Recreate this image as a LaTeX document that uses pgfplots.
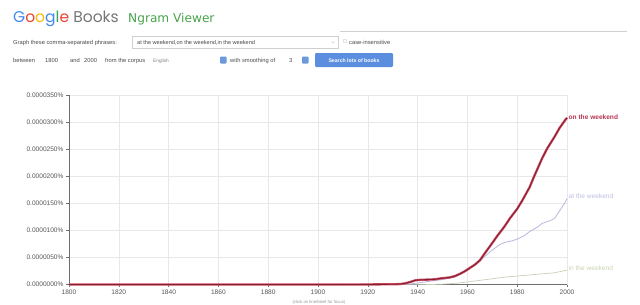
\documentclass[border=0pt]{standalone}
\usepackage{pgfplots}
\pgfplotsset{compat=1.18}
\usepackage{fontspec}
\setmainfont{Liberation Sans}
\newfontfamily\logofont{Poppins}
\newfontfamily\ngfont{DejaVu Sans}
\definecolor{gBlue}{HTML}{4285F4}
\definecolor{gRed}{HTML}{EA4335}
\definecolor{gYellow}{HTML}{FBBC05}
\definecolor{gGreen}{HTML}{34A853}
\definecolor{gGrey}{HTML}{767676}
\definecolor{ngGreen}{HTML}{47A34B}
\definecolor{formText}{HTML}{4A4A4A}
\definecolor{boxGrey}{HTML}{CFCFCF}
\definecolor{btnBlue}{HTML}{5B8EDF}
\definecolor{iconBlue}{HTML}{6A9AD8}
\definecolor{gridGrey}{HTML}{E8E8E8}
\definecolor{axisGrey}{HTML}{6E6E6E}
\definecolor{tickText}{HTML}{555555}
\definecolor{redOuter}{HTML}{CC4A62}
\definecolor{redInner}{HTML}{86202F}
\definecolor{redLabel}{HTML}{B53350}
\definecolor{lavLine}{HTML}{B6B6DE}
\definecolor{lavLabel}{HTML}{BDBDE2}
\definecolor{grnLine}{HTML}{C6D0B6}
\definecolor{grnLabel}{HTML}{C9D4B2}

\pgfplotstableread{
year val
1800 0.3
1850 0.3
1900 0.3
1920 0.5
1930 0.8
1933 1.2
1935 2.5
1937 5
1939 8
1941 9
1943 9.3
1945 9.5
1947 10
1949 11.5
1951 12.5
1953 13.5
1955 16
1957 20
1959 25
1961 31
1963 37
1965 45
1967 58
1970 77
1972 90
1975 108
1977 122
1980 140
1982 155
1985 180
1987 202
1990 233
1992 251
1995 273
1997 289
1999 302
2000 308
}\onweekend

\pgfplotstableread{
year val
1800 0.1
1900 0.1
1935 0.5
1940 3
1945 6.5
1950 9.5
1955 14
1960 26
1963 36
1965 43
1967 52
1970 64
1973 74
1975 78
1978 81
1980 84
1983 91
1985 98
1988 106
1990 113
1993 118
1995 122
1997 136
1999 150
2000 159
}\atweekend

\pgfplotstableread{
year val
1800 0
1900 0
1945 0.2
1950 1
1955 2.5
1960 5
1965 8
1970 11
1975 14
1980 16
1985 18
1990 20
1995 22
1998 25
2000 27
}\inweekend

\begin{document}
\begin{tikzpicture}
\path[use as bounding box] (0,0) rectangle (640bp,-305bp);

\begin{scope}[x=1bp,y=-1bp]
% logo
\node[anchor=base west, inner sep=0, font=\logofont\fontsize{15.6}{16}\selectfont] at (13,22)
  {\textcolor{gBlue}{G}\textcolor{gRed}{o}\textcolor{gYellow}{o}\textcolor{gBlue}{g}\textcolor{gGreen}{l}\textcolor{gRed}{e} \textcolor{gGrey}{Books}};
\node[anchor=base west, inner sep=0, font=\ngfont\fontsize{12.2}{12.5}\selectfont, text=ngGreen] at (128,22.5) {Ngram Viewer};
\draw[boxGrey, line width=0.5bp] (340,31) -- (627,31);
% row 1
\node[anchor=base west, inner sep=0, font=\fontsize{5.8}{6}\selectfont, text=formText] at (13,44) {Graph these comma-separated phrases:};
\draw[boxGrey, line width=0.5bp, fill=white] (132,36.5) rectangle (338,48);
\node[anchor=base west, inner sep=0, font=\fontsize{5.6}{6}\selectfont, text=formText] at (137,44) {at the weekend,on the weekend,in the weekend};
\draw[boxGrey, line width=0.4bp] (331.5,41.5) -- (333,43) -- (334.5,41.5);
\draw[boxGrey!60, line width=0.4bp] (343,39.5) rectangle (346,42.5);
\node[anchor=base west, inner sep=0, font=\fontsize{5.8}{6}\selectfont, text=formText] at (349,44) {case-insensitive};
% row 2
\begin{scope}[every node/.style={anchor=base west, inner sep=0, font=\fontsize{5.8}{6}\selectfont, text=formText}]
\node at (13,62.5) {between};
\node at (45,62.5) {1800};
\node at (70,62.5) {and};
\node at (84,62.5) {2000};
\node at (105,62.5) {from the corpus};
\node[font=\fontsize{4.8}{5}\selectfont, text=formText!70] at (153,62.5) {English};
\node at (230,62.5) {with smoothing of};
\node at (289,62.5) {3};
\end{scope}
\fill[iconBlue, rounded corners=0.8bp] (220,56.5) rectangle (226.5,63.5);
\fill[iconBlue, rounded corners=0.8bp] (302,56.5) rectangle (308.5,63.5);
\fill[btnBlue, rounded corners=1.2bp] (315,53) rectangle (393,67);
\node[anchor=center, inner sep=0, font=\bfseries\fontsize{5.2}{6}\selectfont, text=white] at (354,60.3) {Search lots of books};
% caption
\node[anchor=center, inner sep=0, font=\fontsize{4.3}{5}\selectfont, text=gray!80] at (319,302.3) {(click on line/label for focus)};
\end{scope}

\begin{axis}[
  at={(69bp,-284.7bp)}, anchor=south west,
  scale only axis, width=498bp, height=189.7bp,
  xmin=1800, xmax=2000, ymin=0, ymax=350,
  xtick={1800,1820,...,2000},
  xticklabels={1800,1820,1840,1860,1880,1900,1920,1940,1960,1980,2000},
  ytick={0,50,...,350},
  yticklabels={0.0000000\%,0.0000050\%,0.0000100\%,0.0000150\%,0.0000200\%,0.0000250\%,0.0000300\%,0.0000350\%},
  axis x line*=bottom, axis y line*=left,
  axis line style={draw=axisGrey, line width=0.6bp, -},
  grid=major, major grid style={draw=gridGrey, line width=0.5bp},
  tick align=outside, major tick length=2.5bp,
  tick style={draw=axisGrey, line width=0.5bp},
  ticklabel style={font=\fontsize{6.6}{7}\selectfont, text=tickText},
  xticklabel style={yshift=1bp},
  yticklabel style={xshift=0.5bp},
  clip=false,
]
\addplot[grnLine, line width=0.7bp] table[x=year,y=val] {\inweekend};
\addplot[lavLine, line width=0.8bp] table[x=year,y=val] {\atweekend};
\addplot[redOuter, line width=2.3bp, line join=round] table[x=year,y=val] {\onweekend};
\addplot[redInner, line width=0.9bp, line join=round] table[x=year,y=val] {\onweekend};
\node[anchor=west, inner sep=0, xshift=1.5bp, yshift=1bp, font=\bfseries\fontsize{6.6}{7}\selectfont, text=redLabel] at (axis cs:2000,308) {on the weekend};
\node[anchor=west, inner sep=0, xshift=1.5bp, yshift=2bp, font=\fontsize{6.6}{7}\selectfont, text=lavLabel] at (axis cs:2000,159) {at the weekend};
\node[anchor=west, inner sep=0, xshift=1.5bp, yshift=2bp, font=\fontsize{6.6}{7}\selectfont, text=grnLabel] at (axis cs:2000,27) {in the weekend};
\end{axis}
\end{tikzpicture}
\end{document}
